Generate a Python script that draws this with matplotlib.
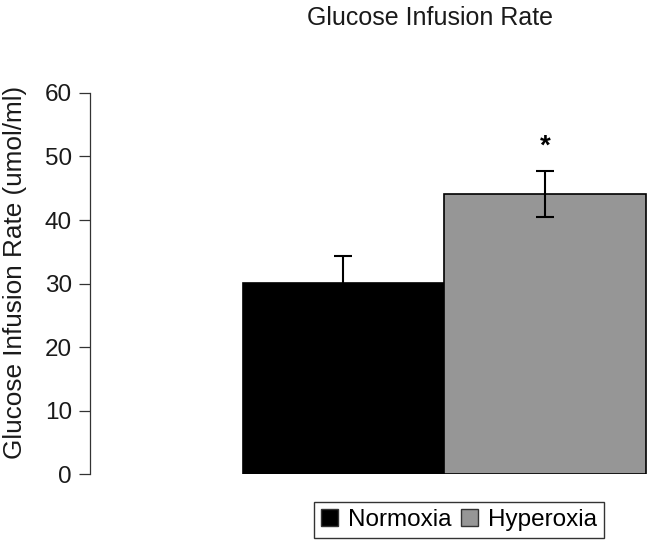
import matplotlib.pyplot as plt
from matplotlib.patches import Patch

plt.rcParams['font.family'] = ['Liberation Sans', 'DejaVu Sans']

groups = ['Normoxia', 'Hyperoxia']
rate = [30.1, 44.1]
err = [4.3, 3.6]
colors = ['#000000', '#969696']
yticks = [0, 10, 20, 30, 40, 50, 60]

fig = plt.figure(figsize=(6.54, 5.48), dpi=100)
ax = fig.add_axes([0.1376, 0.135, 0.8535, 0.6953])

ax.bar([0, 1], rate, width=1.0, color=colors, edgecolor='black', linewidth=1.2,
       yerr=err, error_kw=dict(ecolor='black', elinewidth=1.5, capsize=6.5,
                               capthick=1.5))
ax.text(1, 51.6, '*', ha='center', va='center', fontsize=20, fontweight='bold')

ax.set_xlim(-1.256, 1.51)
ax.set_ylim(0, 60)
ax.set_yticks(yticks)
ax.set_xticks([])
for s in ['top', 'right', 'bottom']:
    ax.spines[s].set_visible(False)
ax.spines['left'].set_color('#333333')
ax.spines['left'].set_linewidth(0.9)
ax.tick_params(axis='y', length=8, width=0.9, color='#333333', labelsize=17.5,
               pad=5, labelcolor='#1a1a1a')
ax.set_ylabel('Glucose Infusion Rate (umol/ml)', fontsize=18.8, color='#1a1a1a')
ax.yaxis.set_label_coords(-0.112, 0.53)

fig.text(430 / 654, 1 - 18 / 548, 'Glucose Infusion Rate', ha='center',
         va='center', fontsize=18, color='#1a1a1a')

handles = [Patch(facecolor=c, edgecolor='#333333', label=g)
           for c, g in zip(colors, groups)]
leg = fig.legend(handles=handles, loc='center', ncol=2,
                 bbox_to_anchor=(459 / 654, 1 - 520 / 548), fontsize=17.5,
                 frameon=True, fancybox=False, edgecolor='black',
                 handlelength=0.7, handleheight=0.7, handletextpad=0.4,
                 columnspacing=0.4, borderpad=0.3, borderaxespad=0)
leg.get_frame().set_linewidth(1.0)

fig.savefig('out.png', dpi=100)
